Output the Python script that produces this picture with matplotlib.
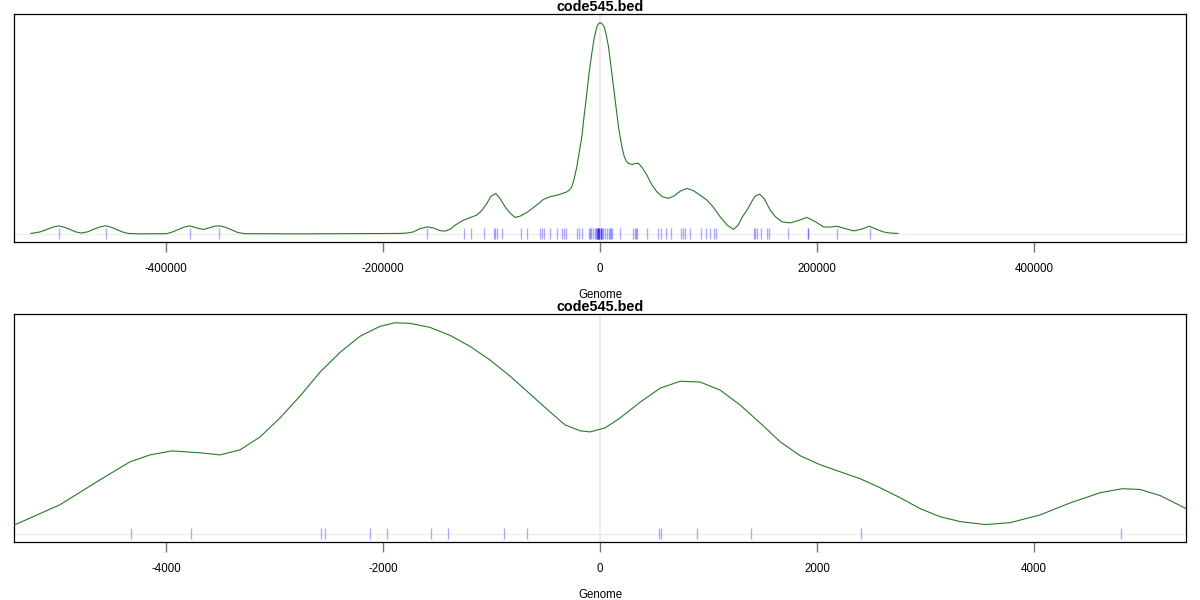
import matplotlib
matplotlib.use("Agg")
import matplotlib.pyplot as plt

plt.rcParams['font.family'] = ['Liberation Sans', 'DejaVu Sans']

TITLE = "code545.bed"
XLABEL = "Genome"
FONTSIZE = 8.3
CURVE_COLOR = '#267a26'
RUG_COLOR = (0.0, 0.0, 1.0, 0.33)
ZERO_COLOR = '#fbe1e5'

# region positions (all features)
genome_pos = [
    -499100, -455800, -378300, -351000, -159500, -125900, -119400, -107000,
    -98200, -96500, -94700, -90400, -72800, -67000, -55000, -53500, -51600,
    -45800, -39700, -35500, -33500, -31400, -20900, -19600, -16900, -10400,
    -9500, -8600, -6200, -4326, -3771, -2574, -2535, -2123, -1963, -1558,
    -1402, -883, -671, 547, 558, 897, 1388, 2405, 4802, 6500, 7700, 8900,
    9900, 11100, 18000, 30700, 32000, 33200, 34400, 43600, 53000, 56000,
    60900, 65500, 74200, 76100, 78100, 82700, 93100, 97700, 100800, 104500,
    107000, 141400, 142900, 144500, 148500, 153700, 155200, 173600, 191300,
    192000, 217900, 248300,
]

# density over the whole range (relative height, peak = 1)
wide_x = [
    -524700, -516400, -509900, -504400, -499100, -494200, -488700, -483200,
    -477900, -472100, -466600, -461000, -455800, -450900, -445400, -439800,
    -434900, -424200, -399500, -394700, -389100, -383600, -378300, -372500,
    -365800, -359600, -355900, -351000, -345800, -339300, -333800, -327300,
    -276600, -184400, -178000, -172200, -166000, -159200, -153100, -147500,
    -142900, -138300, -132800, -126000, -119900, -113700, -108800, -104500,
    -100500, -96200, -92200, -87600, -83000, -78400, -73800, -67600, -59900,
    -52300, -46100, -39900, -35000, -30700, -28100, -26100, -24000, -21500,
    -19400, -16900, -14800, -12300, -10100, -7700, -5500, -3000, -1600, 0,
    1800, 3700, 5500, 7700, 9700, 12300, 14800, 16900, 18400, 20300, 22100,
    24000, 26100, 29500, 32300, 35300, 38700, 43100, 47000, 52300, 57200,
    63000, 68200, 73800, 79900, 85800, 92200, 98400, 104200, 110600, 117100,
    122900, 127200, 130900, 135300, 140200, 142900, 146900, 151200, 156800,
    161400, 167500, 175200, 182600, 190600, 198200, 205900, 212100, 218300,
    225900, 233600, 240700, 248300, 254500, 261200, 267400, 274500,
]
wide_y = [
    0.002, 0.009, 0.021, 0.032, 0.038, 0.032, 0.021, 0.009,
    0.004, 0.010, 0.022, 0.033, 0.038, 0.032, 0.020, 0.008,
    0.002, 0.000, 0.001, 0.008, 0.020, 0.032, 0.038, 0.029,
    0.021, 0.029, 0.036, 0.038, 0.032, 0.018, 0.006, 0.001,
    0.000, 0.002, 0.004, 0.009, 0.025, 0.033, 0.027, 0.015,
    0.013, 0.022, 0.044, 0.065, 0.077, 0.089, 0.112, 0.144,
    0.179, 0.191, 0.167, 0.128, 0.098, 0.078, 0.084, 0.101, 0.131,
    0.163, 0.176, 0.183, 0.191, 0.199, 0.209, 0.223, 0.259, 0.318,
    0.382, 0.460, 0.558, 0.665, 0.766, 0.855, 0.927, 0.981, 0.995, 1.000,
    0.995, 0.981, 0.946, 0.886, 0.804, 0.697, 0.596, 0.507, 0.460, 0.406, 0.368,
    0.345, 0.334, 0.329, 0.333, 0.334, 0.314, 0.278, 0.238, 0.199, 0.176,
    0.168, 0.180, 0.202, 0.215, 0.205, 0.183, 0.160, 0.127, 0.081, 0.041,
    0.021, 0.041, 0.079, 0.112, 0.157, 0.179, 0.188, 0.167, 0.112,
    0.082, 0.057, 0.052, 0.063, 0.078, 0.058, 0.033, 0.032, 0.036,
    0.025, 0.014, 0.022, 0.036, 0.022, 0.009, 0.004, 0.002,
]

# density close to the centre (relative height, peak = 1)
zoom_x = [
    -5403, -4979, -4610, -4334, -4149, -3947, -3688, -3504, -3319, -3135,
    -2951, -2766, -2582, -2397, -2213, -2029, -1890, -1752, -1568, -1383,
    -1199, -1014, -830, -645, -461, -323, -184, -92, 46, 184, 369, 553, 738,
    922, 1106, 1291, 1475, 1660, 1844, 2029, 2213, 2398, 2582, 2766, 2951,
    3135, 3319, 3550, 3780, 4057, 4334, 4610, 4813, 4979, 5164, 5403,
]
zoom_y = [
    0.041, 0.138, 0.256, 0.341, 0.374, 0.393, 0.384, 0.374, 0.398, 0.459,
    0.549, 0.653, 0.766, 0.860, 0.936, 0.983, 1.000, 0.997, 0.978, 0.940,
    0.888, 0.823, 0.747, 0.662, 0.577, 0.516, 0.488, 0.483, 0.502, 0.549,
    0.624, 0.690, 0.723, 0.719, 0.681, 0.610, 0.525, 0.436, 0.370, 0.327,
    0.294, 0.261, 0.218, 0.171, 0.119, 0.081, 0.058, 0.044, 0.053, 0.090,
    0.147, 0.195, 0.214, 0.210, 0.181, 0.119,
]

wide_ticks = [-400000, -200000, 0, 200000, 400000]
zoom_ticks = [-4000, -2000, 0, 2000, 4000]
wide_lim = (-540000, 540000)
zoom_lim = (-5400, 5400)


def plot_density(ax, xs, ys, ticks, xlim):
    ax.axvline(0, color=ZERO_COLOR, linewidth=1.2, zorder=1)
    ax.axhline(0, color='#eeeeee', linewidth=1, zorder=1)
    ax.vlines(genome_pos, -0.026, 0.026, colors=[RUG_COLOR], linewidth=1, zorder=2)
    ax.plot(xs, ys, color=CURVE_COLOR, linewidth=0.8, zorder=3)
    ax.set_xlim(*xlim)
    ax.set_ylim(-0.04, 1.04)
    ax.set_yticks([])
    ax.set_xticks(ticks)
    ax.set_xticklabels([str(t) for t in ticks])
    ax.tick_params(axis='x', length=7, width=1, color='#777777',
                   labelsize=FONTSIZE, pad=8)
    for sp in ax.spines.values():
        sp.set_linewidth(0.9)
    ax.set_title(TITLE, fontsize=10.4, fontweight='bold', pad=0.5)
    ax.set_xlabel(XLABEL, fontsize=FONTSIZE, labelpad=10)


fig = plt.figure(figsize=(12, 6), dpi=100)
ax1 = fig.add_axes([14.3 / 1200, 1 - 242.3 / 600, 1171.7 / 1200, 228 / 600])
ax2 = fig.add_axes([14.3 / 1200, 1 - 542.3 / 600, 1171.7 / 1200, 228 / 600])

plot_density(ax1, wide_x, wide_y, wide_ticks, wide_lim)
plot_density(ax2, zoom_x, zoom_y, zoom_ticks, zoom_lim)

fig.savefig("out.png", dpi=100)
